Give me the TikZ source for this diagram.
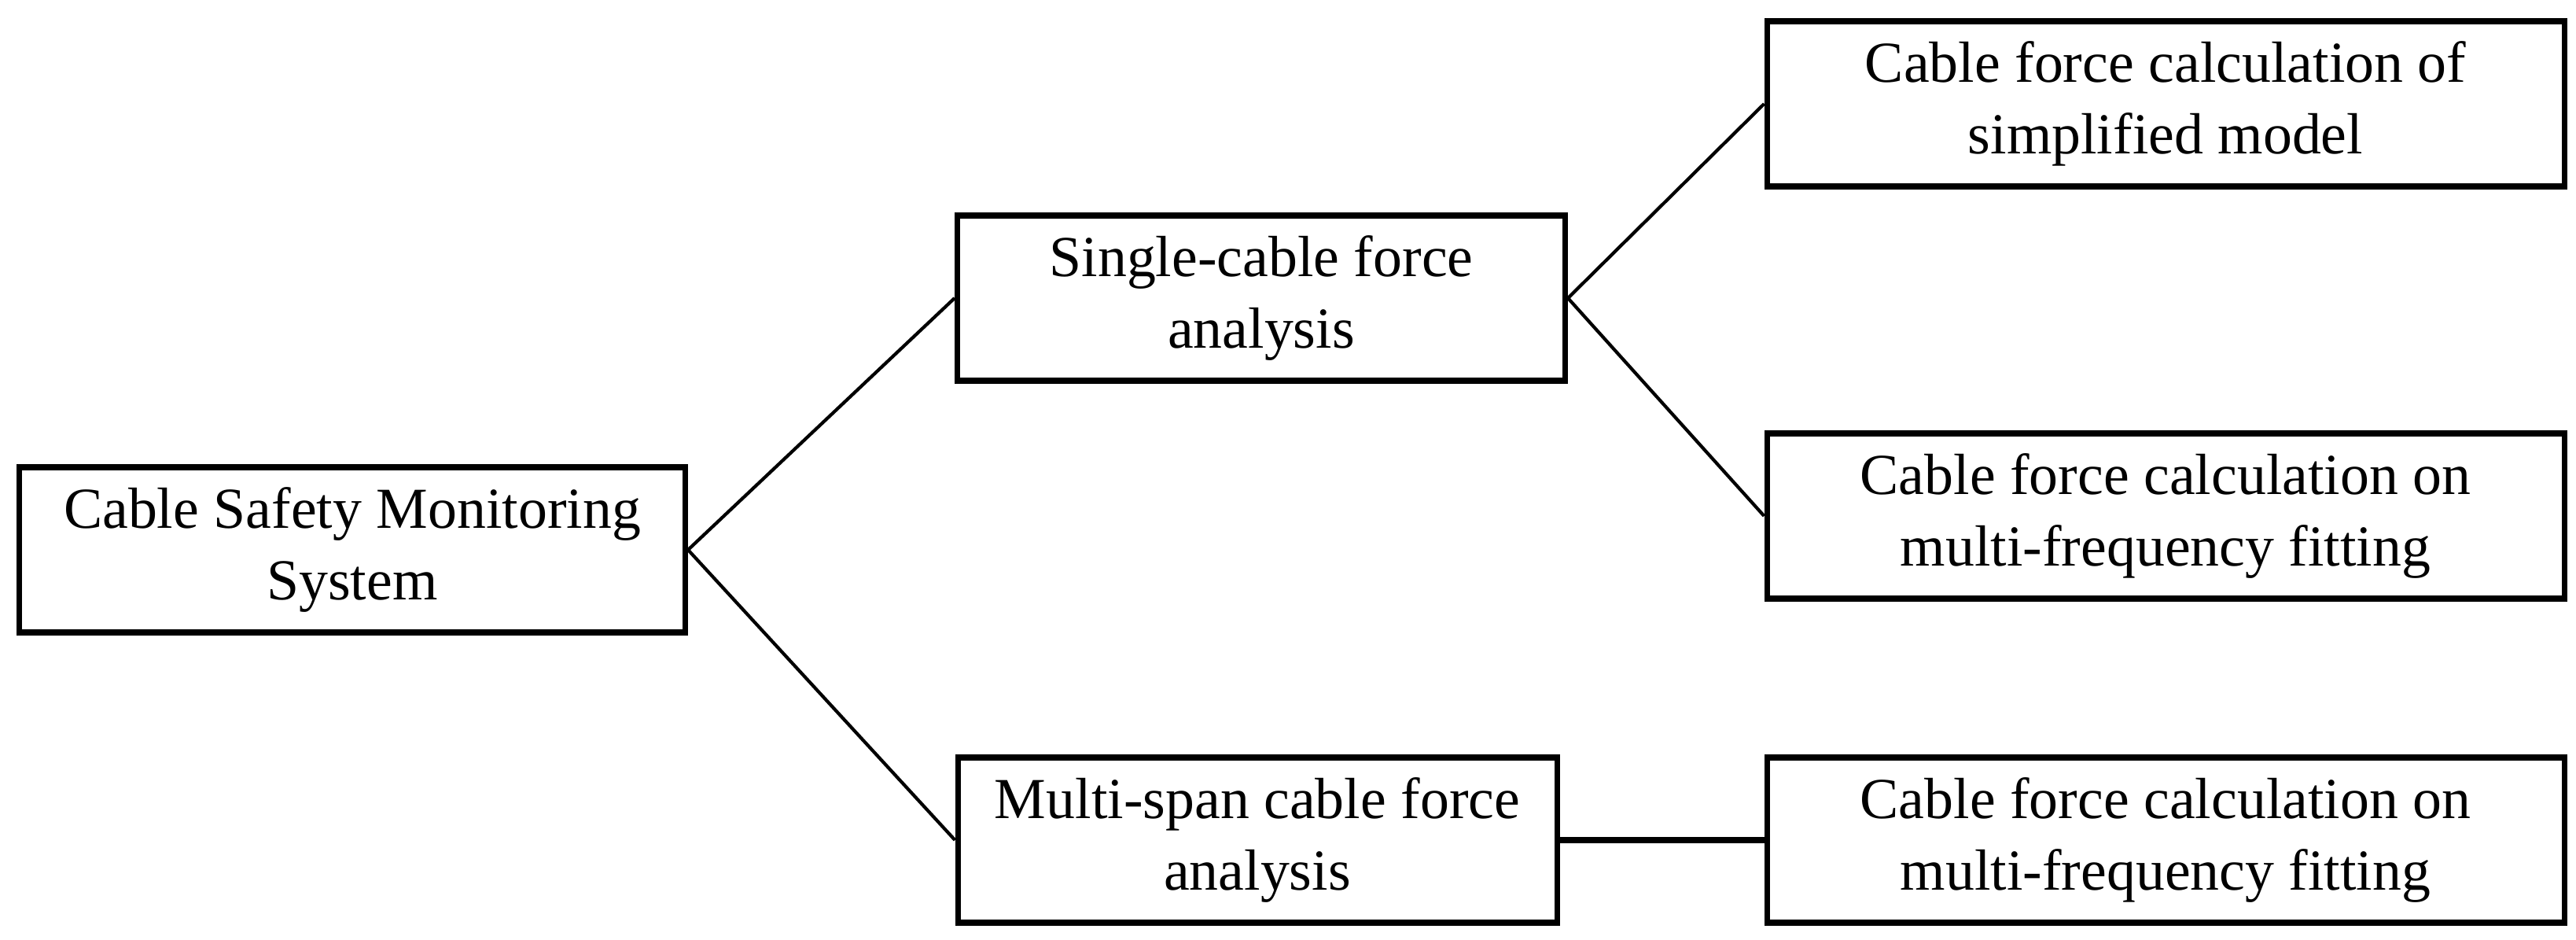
\documentclass[tikz,border=0pt]{standalone}
\usepackage{fontspec}
\setmainfont{Liberation Serif}
\begin{document}
\begin{tikzpicture}[
    box/.style={draw, line width=2pt, minimum height=2.1cm, align=center,
                font=\fontsize{21}{26}\selectfont},
    link/.style={line width=1.2pt}]
      \useasboundingbox (0,0) rectangle (32.76,11.94);
      %%%%%%%%%%%%%%%%%%%%%%%%%%%%%%%%%%%%%%%%%%%%%%%
      \node[box, minimum width=8.47cm] at (4.48,4.95) (root) {Cable Safety Monitoring\\System};
      %%%%%%%%%%%%%%%%%%%%%%%%%%%%%%%%%%%%%%%%%%%%%%%
      \node[box, minimum width=7.73cm] at (16.04,8.15) (single) {Single-cable force\\analysis};
      \node[box, minimum width=7.62cm] at (15.99,1.26) (multi) {Multi-span cable force\\analysis};
      %%%%%%%%%%%%%%%%%%%%%%%%%%%%%%%%%%%%%%%%%%%%%%%
      \node[box, minimum width=10.14cm] at (27.54,10.62) (simp) {Cable force calculation of\\simplified model};
      \node[box, minimum width=10.14cm] at (27.54,5.38) (fit1) {Cable force calculation on\\multi-frequency fitting};
      \node[box, minimum width=10.14cm] at (27.54,1.26) (fit2) {Cable force calculation on\\multi-frequency fitting};
      %%%%%%%%%%%%%%%%%%%%%%%%%%%%%%%%%%%%%%%%%%%%%%%
      \draw[link] (root.east) -- (single.west)
            (root.east) -- (multi.west)
            (single.east) -- (simp.west)
            (single.east) -- (fit1.west);
      \draw[line width=2pt] (multi.east) -- (fit2.west);
    \end{tikzpicture}
\end{document}
